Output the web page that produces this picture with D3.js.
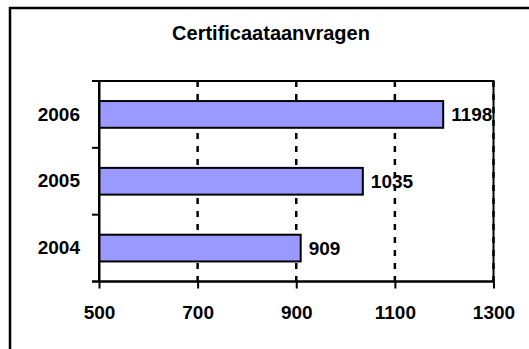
<!DOCTYPE html>
<html>
<head>
<meta charset="utf-8">
<script src="https://cdn.jsdelivr.net/npm/d3@7"></script>
<style>
  html, body { margin: 0; padding: 0; background: #fff; }
  svg { display: block; font-family: "Liberation Sans", Arial, sans-serif; font-weight: bold; }
</style>
</head>
<body>
<svg id="chart" width="529" height="349"></svg>
<script>
// Certificate requests per year
const chartTitle = "Certificaataanvragen";
const years = ["2004", "2005", "2006"];
const requests = [909, 1035, 1198];
const xTicks = [500, 700, 900, 1100, 1300];

const svg = d3.select("#chart");
const plot = { left: 99, right: 493.5, top: 81, bottom: 281.5 };

// Outer chart frame (right and bottom edges fall outside the view)
svg.append("rect")
  .attr("x", 10).attr("y", 8)
  .attr("width", 540).attr("height", 360)
  .attr("fill", "#fff").attr("stroke", "#000").attr("stroke-width", 2.5);

svg.append("text")
  .attr("x", 271).attr("y", 40)
  .attr("text-anchor", "middle")
  .attr("font-size", 20)
  .text(chartTitle);

const x = d3.scaleLinear().domain([500, 1300]).range([plot.left, plot.right]);
const y = d3.scaleBand().domain(years.slice().reverse())
  .range([plot.top, plot.bottom]).paddingInner(0.6).paddingOuter(0.3);
const yTickScale = d3.scaleBand().domain(years.slice().reverse())
  .range([plot.top, plot.bottom]);

// Dashed vertical gridlines
svg.append("g")
  .selectAll("line")
  .data(xTicks.slice(1))
  .join("line")
  .attr("x1", d => x(d)).attr("x2", d => x(d))
  .attr("y1", plot.top).attr("y2", plot.bottom)
  .attr("stroke", "#000").attr("stroke-width", 2.5)
  .attr("stroke-dasharray", "6,7");

// Plot area border
svg.append("rect")
  .attr("x", plot.left).attr("y", plot.top)
  .attr("width", plot.right - plot.left).attr("height", plot.bottom - plot.top)
  .attr("fill", "none").attr("stroke", "#000").attr("stroke-width", 2);

// Bars
const rows = years.map((yr, i) => ({ year: yr, value: requests[i] }));
svg.append("g")
  .selectAll("rect")
  .data(rows)
  .join("rect")
  .attr("x", x(500))
  .attr("y", d => y(d.year))
  .attr("width", d => x(d.value) - x(500))
  .attr("height", y.bandwidth())
  .attr("fill", "#9999ff")
  .attr("stroke", "#000").attr("stroke-width", 2);

// Value labels
svg.append("g")
  .selectAll("text")
  .data(rows)
  .join("text")
  .attr("x", d => x(d.value) + 8)
  .attr("y", d => y(d.year) + y.bandwidth() / 2)
  .attr("dy", "0.36em")
  .attr("font-size", 19)
  .text(d => d.value);

// Category axis
const yAxis = svg.append("g")
  .attr("transform", `translate(${plot.left},0)`)
  .call(d3.axisLeft(yTickScale).tickSize(0).tickPadding(19));
yAxis.select(".domain").attr("stroke", "#000").attr("stroke-width", 2);
yAxis.selectAll("text").attr("font-size", 19).attr("font-family", null).attr("fill", "#000");
// Tick marks on category boundaries
svg.append("g")
  .selectAll("line")
  .data([plot.top, ...years.slice().reverse().map(d => yTickScale(d) + yTickScale.bandwidth())])
  .join("line")
  .attr("x1", plot.left - 7).attr("x2", plot.left)
  .attr("y1", d => d).attr("y2", d => d)
  .attr("stroke", "#000").attr("stroke-width", 2);

// Value axis
const xAxis = svg.append("g")
  .attr("transform", `translate(0,${plot.bottom})`)
  .call(d3.axisBottom(x).tickValues(xTicks).tickFormat(d3.format("d")).tickSize(7).tickPadding(17));
xAxis.select(".domain").attr("stroke", "#000").attr("stroke-width", 2)
  .attr("d", `M${plot.left - 7},0H${plot.right}`);
xAxis.selectAll(".tick line").attr("stroke", "#000").attr("stroke-width", 2);
xAxis.selectAll("text").attr("font-size", 19).attr("font-family", null).attr("fill", "#000");
</script>
</body>
</html>
